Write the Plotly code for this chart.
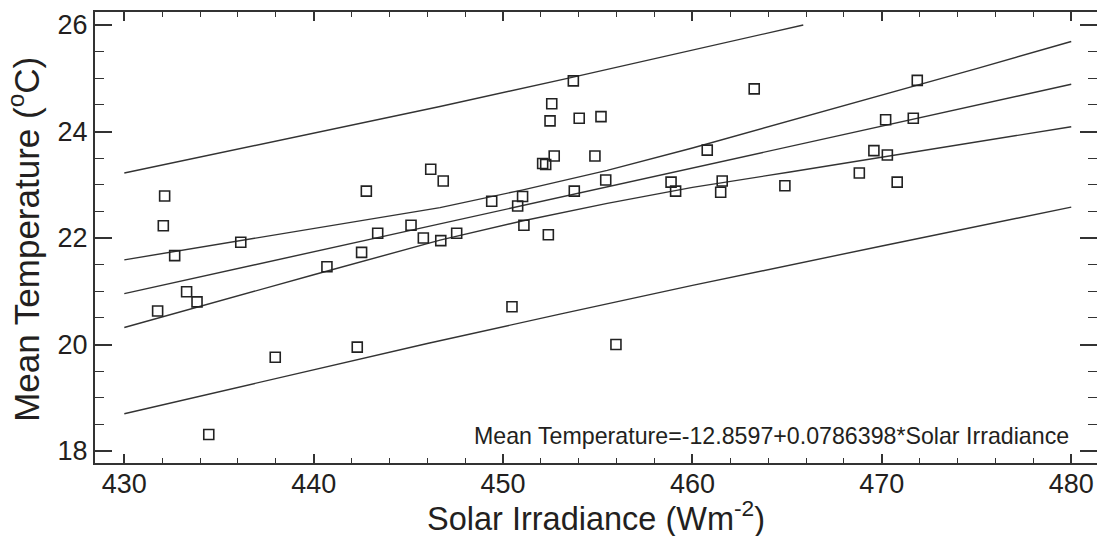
import plotly.graph_objects as go

# Observed data (Solar Irradiance, Mean Temperature)
solar = [432.13, 432.06, 442.78, 443.38, 445.14, 436.15, 432.66, 433.29, 433.84, 431.76,
         434.46, 437.97, 440.70, 442.30, 442.53, 445.79, 446.18, 446.84, 453.71, 452.57,
         452.48, 454.02, 455.17, 452.70, 452.09, 452.25, 454.85, 460.78, 455.42, 449.40,
         451.03, 450.77, 453.76, 458.87, 459.11, 461.57, 461.49, 451.10, 452.39, 447.55,
         446.71, 450.47, 455.96, 463.26, 471.87, 470.20, 471.66, 469.58, 470.29, 468.81,
         464.88, 470.81]
temp = [22.79, 22.23, 22.88, 22.09, 22.24, 21.92, 21.67, 20.99, 20.80, 20.63,
        18.31, 19.76, 21.46, 19.95, 21.73, 22.00, 23.29, 23.07, 24.95, 24.52,
        24.20, 24.25, 24.28, 23.54, 23.40, 23.38, 23.54, 23.65, 23.09, 22.69,
        22.78, 22.60, 22.88, 23.05, 22.88, 23.07, 22.86, 22.24, 22.06, 22.09,
        21.95, 20.71, 20.00, 24.80, 24.96, 24.22, 24.25, 23.64, 23.56, 23.22,
        22.98, 23.05]

# Fitted line (Mean Temperature=-12.8597+0.0786398*Solar Irradiance)
fit_x = [430, 480]
fit_y = [20.955, 24.887]

# Confidence limits
conf_x = [430, 435, 440, 446.67, 451, 455.5, 460, 465.15, 470, 475, 480]
conf_upper = [21.59, 21.88, 22.17, 22.57, 22.90, 23.27, 23.69, 24.20, 24.68, 25.18, 25.69]
conf_lower = [20.32, 20.82, 21.31, 21.96, 22.32, 22.65, 22.95, 23.24, 23.52, 23.80, 24.09]

# Prediction limits
pred_up_x = [430, 440, 446.67, 453.7, 460, 465.85]
pred_upper = [23.22, 23.97, 24.47, 25.02, 25.53, 26.00]
pred_lo_x = [430, 440, 446, 453, 460, 470, 480]
pred_lower = [18.70, 19.53, 20.02, 20.57, 21.11, 21.85, 22.58]

x_ticks = [430, 440, 450, 460, 470, 480]
y_ticks = [18, 20, 22, 24, 26]

LINE = "#333333"
TXT = "#231f20"
FONT = "Liberation Sans, Arial, sans-serif"

fig = go.Figure()
line_style = dict(color=LINE, width=1.4)
for xs, ys in [(pred_up_x, pred_upper), (conf_x, conf_upper), (fit_x, fit_y),
               (conf_x, conf_lower), (pred_lo_x, pred_lower)]:
    fig.add_trace(go.Scatter(x=xs, y=ys, mode="lines", line=line_style,
                             showlegend=False, hoverinfo="skip"))

fig.add_trace(go.Scatter(x=solar, y=temp, mode="markers",
                         marker=dict(symbol="square-open", size=10,
                                     color="#222222", line=dict(width=1.6, color="#222222")),
                         showlegend=False))

fig.update_layout(
    width=1097, height=536,
    margin=dict(l=95, r=0, t=12, b=73),
    paper_bgcolor="white", plot_bgcolor="white",
    font=dict(family=FONT, color=TXT),
    xaxis=dict(range=[428.453, 481.36], tickvals=x_ticks, ticks="inside", ticklen=9,
               tickwidth=1.5, tickcolor=LINE, showline=True, linecolor=LINE, linewidth=2,
               mirror="ticks", showgrid=False, zeroline=False, automargin=False,
               ticklabelstandoff=-4,
               tickfont=dict(size=27, color=TXT, family=FONT),
               minor=dict(dtick=2, ticks="inside", ticklen=5, tickwidth=1.2, tickcolor=LINE,
                          showgrid=False)),
    yaxis=dict(range=[17.775, 26.244], tickvals=y_ticks, ticks="inside", ticklen=17,
               tickwidth=1.5, tickcolor=LINE, showline=True, linecolor=LINE, linewidth=2,
               mirror="ticks", showgrid=False, zeroline=False, automargin=False,
               tickfont=dict(size=27, color=TXT, family=FONT),
               minor=dict(dtick=0.5, ticks="inside", ticklen=9, tickwidth=1.2, tickcolor=LINE,
                          showgrid=False)),
    annotations=[
        dict(text="Solar Irradiance (Wm<sup>-2</sup>)", xref="paper", yref="paper",
             x=0.5, y=-0.117, xanchor="center", yanchor="middle", showarrow=False,
             font=dict(size=32.5, color=TXT, family=FONT)),
        dict(text="Mean Temperature (<sup>o</sup>C)", xref="paper", yref="paper",
             x=-0.071, y=0.4967, xanchor="center", yanchor="middle", showarrow=False,
             textangle=-90, font=dict(size=35, color=TXT, family=FONT)),
        dict(text="Mean Temperature=-12.8597+0.0786398*Solar Irradiance", xref="x", yref="y",
             x=480, y=18.28, xanchor="right", yanchor="middle", showarrow=False,
             font=dict(size=23.2, color=TXT, family=FONT)),
    ],
)

fig.write_html("out.html")
